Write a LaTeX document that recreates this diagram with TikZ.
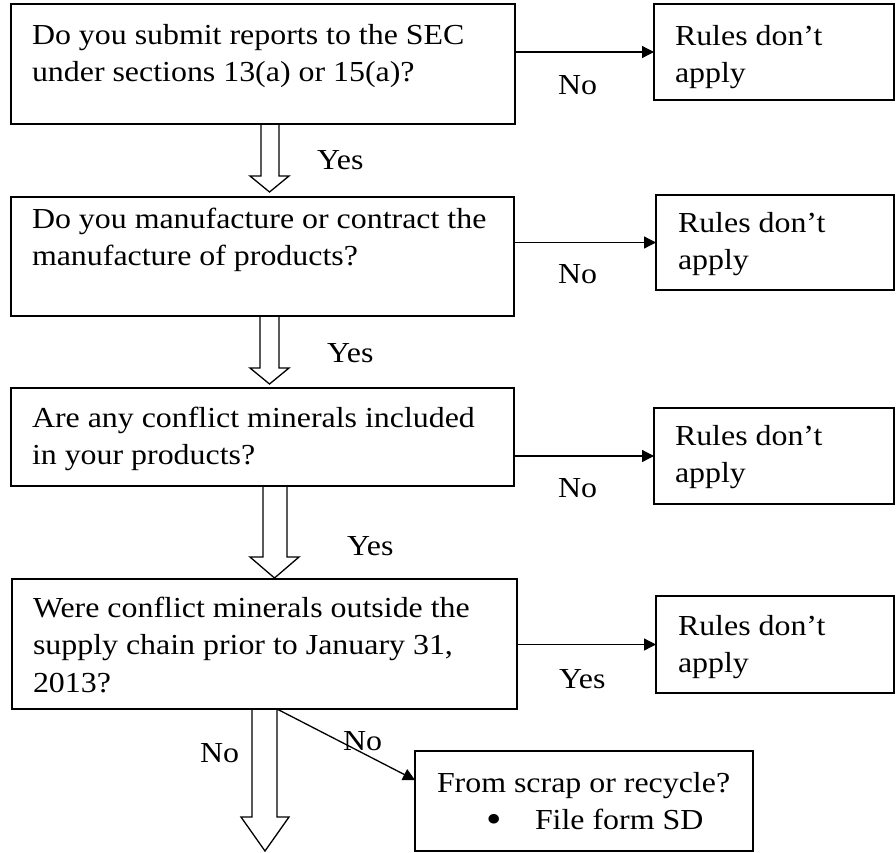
\documentclass[tikz,border=0pt]{standalone}
\usepackage{fontspec}
\setmainfont{Liberation Serif}[FakeStretch=1.1]
\usetikzlibrary{arrows.meta,calc}
\begin{document}
\begin{tikzpicture}[x=1pt,y=-1pt,
  box/.style={draw, line width=1.4pt, inner sep=0pt, outer sep=0pt, anchor=north west},
  txt/.style={font=\fontsize{29}{37.5}\selectfont, inner sep=0pt, outer sep=0pt, anchor=base west, align=left},
  conn/.style={draw, line width=1.3pt, -{Triangle[length=12pt,width=12pt]}},
  hollow/.style={draw, line width=1.3pt, line join=miter}]
\useasboundingbox[fill=white] (0,0) rectangle (896,852);

% boxes
\node[box, minimum width=504pt, minimum height=120pt] (q1) at (11,4) {};
\node[box, minimum width=240pt, minimum height=96pt] (r1) at (654,4) {};
\node[box, minimum width=503pt, minimum height=119pt] (q2) at (11,197) {};
\node[box, minimum width=238pt, minimum height=95pt] (r2) at (656,195) {};
\node[box, minimum width=503pt, minimum height=98pt] (q3) at (11,388) {};
\node[box, minimum width=240pt, minimum height=96pt] (r3) at (654,408) {};
\node[box, minimum width=505pt, minimum height=130pt] (q4) at (12,579) {};
\node[box, minimum width=238pt, minimum height=97pt] (r4) at (656,596) {};
\node[box, minimum width=338pt, minimum height=100pt] (s5) at (415,751) {};

% texts (base anchor = baseline of the last line)
\node[txt] (t1) at (32,81.5) {Do you submit reports to the SEC\\under sections 13(a) or 15(a)?};
\node[txt] (u1) at (675,82.5) {Rules don’t\\apply};
\node[txt] (t2) at (32,265.5) {Do you manufacture or contract the\\manufacture of products?};
\node[txt] (u2) at (678,269.5) {Rules don’t\\apply};
\node[txt] (t3) at (32,464.5) {Are any conflict minerals included\\in your products?};
\node[txt] (u3) at (675,482.5) {Rules don’t\\apply};
\node[txt] (t4) at (33,692) {Were conflict minerals outside the\\supply chain prior to January 31,\\2013?};
\node[txt] (u4) at (678,672.5) {Rules don’t\\apply};
\node[txt] (t5) at (437,829.5) {From scrap or recycle?\\\hspace*{49pt}\makebox[49pt][l]{\raisebox{-3pt}{\fontsize{40}{40}\selectfont •}}File form SD};

% connectors
\draw[conn] (r1.west -| q1.east) -- (r1.west);
\draw[conn] (r2.west -| q2.east) -- (r2.west);
\draw[conn] (r3.west -| q3.east) -- (r3.west);
\draw[conn] (r4.west -| q4.east) -- (r4.west);
\coordinate (d1) at ($(q4.south west)+(265,0)$);
\coordinate (d2) at ($(s5.north west)+(0,29)$);
\draw[conn] (d1) -- (d2);

% hollow arrows
\draw[hollow] (261,124) -- (261,176) -- (250,176) -- (269.5,192) -- (289,176) -- (279,176) -- (279,124);
\draw[hollow] (260,316) -- (260,368) -- (250,368) -- (269.5,384) -- (289,368) -- (279,368) -- (279,316);
\draw[hollow] (263,486) -- (263,557) -- (250,557) -- (274.5,578) -- (299,557) -- (287,557) -- (287,486);
\draw[hollow] (252,709) -- (252,817) -- (241,817) -- (265,851) -- (289,817) -- (277,817) -- (277,709);

% labels
\node[txt] (l1) at (558,94) {No};
\node[txt] (y1) at (317,169) {Yes};
\node[txt] (l2) at (558,283) {No};
\node[txt] (y2) at (327,362) {Yes};
\node[txt] (l3) at (558,497) {No};
\node[txt] (y3) at (347,555) {Yes};
\node[txt] (y4) at (559,688) {Yes};
\node[txt] (l4) at (200,762) {No};
\node[txt] (l5) at (343,750) {No};
\end{tikzpicture}
\end{document}
